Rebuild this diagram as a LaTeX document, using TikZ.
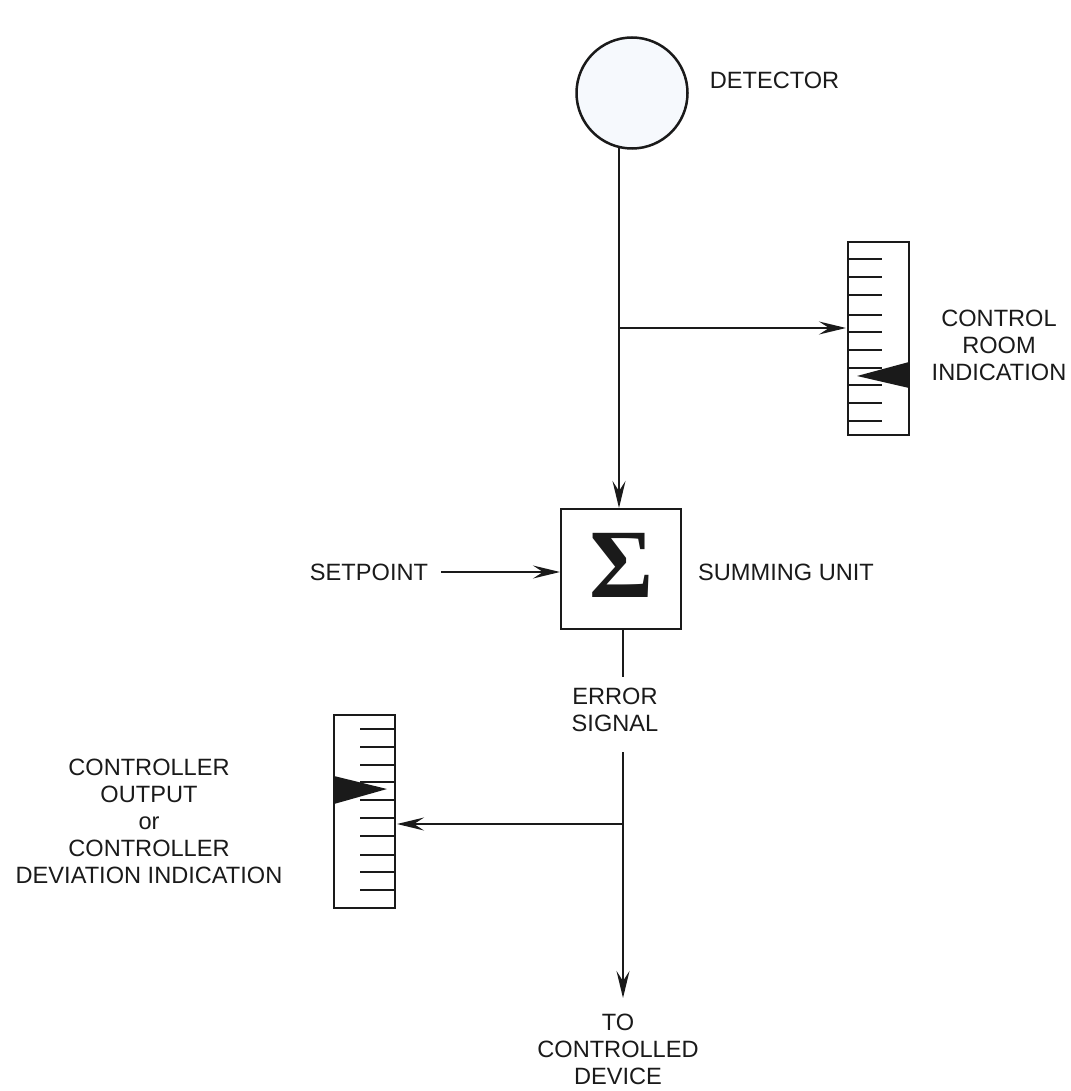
\documentclass[tikz,border=0pt]{standalone}
\usepackage{fontspec}
\setmainfont{Liberation Sans}
\newfontfamily\sigmafont{Liberation Serif}
\usetikzlibrary{arrows.meta}
\definecolor{inkblack}{HTML}{1A1A1A}
\definecolor{paleblue}{HTML}{F6F9FD}
\tikzset{
    tag/.style={font=\fontsize{23.6}{27}\selectfont,align=center,inner sep=0pt,text=inkblack},
    meter/.style={draw=inkblack,line width=2.5pt,minimum width=61pt,minimum height=193pt,inner sep=0pt,outer sep=0pt,anchor=north west},
    wire/.style={draw=inkblack,line width=2pt},
    feed/.style={wire,-{Stealth[length=27pt,width=13pt,inset=10pt]}},
    tickline/.style={draw=inkblack,line width=2.2pt},
}
\begin{document}
\begin{tikzpicture}[x=1pt,y=-1pt]
    \useasboundingbox (0,0) rectangle (1070,1091);
    % Detector
    \node[circle,draw=inkblack,fill=paleblue,line width=2.5pt,minimum size=111pt,inner sep=0pt,outer sep=0pt] (detector) at (632,93) {};
    \node[tag] (detectorlabel) at (774.5,80) {DETECTOR};
    % Summing unit
    \node[draw=inkblack,line width=2.5pt,minimum size=120pt,inner sep=0pt,outer sep=0pt] (summer) at (621,569) {};
    \node[inner sep=0pt,text=inkblack] (sigma) at (621.5,565) {\fontsize{98}{98}\sigmafont\bfseries Σ};
    \node[tag] (summerlabel) at (786,572) {SUMMING UNIT};
    \node[tag] (setpoint) at (369,572) {SETPOINT};
    \node[tag] (error) at (615,710) {ERROR\\SIGNAL};
    % Control room meter
    \node[meter] (roommeter) at (848,242) {};
    \foreach \y in {259,277,295,315,332,350,368,385,403,421}
        \draw[tickline] (848,\y) -- (882,\y);
    \fill[inkblack] (857,376) -- (909,362) -- (909,388) -- cycle;
    \node[tag] (roomlabel) at (999,345) {CONTROL\\ROOM\\INDICATION};
    % Controller meter
    \node[meter] (outmeter) at (334,715) {};
    \foreach \y in {729,747,765,782,800,818,836,855,872,890}
        \draw[tickline] (360,\y) -- (395,\y);
    \fill[inkblack] (387,789) -- (334,776) -- (334,804) -- cycle;
    \node[tag] (outlabel) at (149,821) {CONTROLLER\\OUTPUT\\or\\CONTROLLER\\DEVIATION INDICATION};
    \node[tag] (device) at (618,1049) {TO\\CONTROLLED\\DEVICE};
    % Connectors
    \coordinate (detfoot) at (619,147);
    \coordinate (sumtop) at (619,508);
    \coordinate (roomtee) at (619,328);
    \coordinate (roomin) at (846,328);
    \coordinate (sumfoot) at (623,629);
    \coordinate (errtop) at (623,677);
    \coordinate (errfoot) at (623,752);
    \coordinate (outtee) at (623,824);
    \coordinate (outin) at (397,824);
    \coordinate (devtop) at (623,998);
    \coordinate (setfrom) at (441,572);
    \coordinate (setto) at (560,572);
    \draw[feed] (detfoot) -- (sumtop);
    \draw[feed] (roomtee) -- (roomin);
    \draw[feed] (setfrom) -- (setto);
    \draw[wire] (sumfoot) -- (errtop);
    \draw[feed] (errfoot) -- (devtop);
    \draw[feed] (outtee) -- (outin);
\end{tikzpicture}
\end{document}
